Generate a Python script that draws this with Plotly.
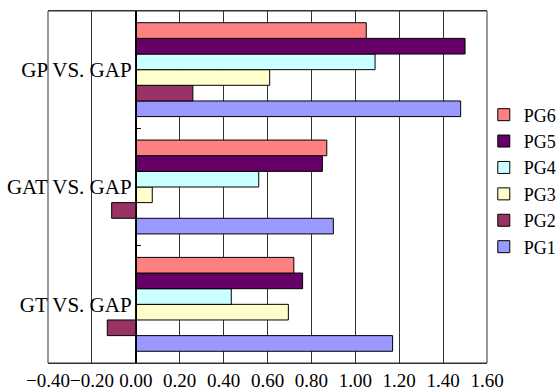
import plotly.graph_objects as go

categories = ["GT VS. GAP", "GAT VS. GAP", "GP VS. GAP"]
series_names = ["PG1", "PG2", "PG3", "PG4", "PG5", "PG6"]
pg1 = [1.17, 0.90, 1.48]
pg2 = [-0.13, -0.11, 0.26]
pg3 = [0.695, 0.075, 0.61]
pg4 = [0.435, 0.56, 1.09]
pg5 = [0.76, 0.85, 1.50]
pg6 = [0.72, 0.87, 1.05]
series_values = [pg1, pg2, pg3, pg4, pg5, pg6]
colors = ["#9999FF", "#993366", "#FFFFCC", "#CCFFFF", "#660066", "#FF8080"]
x_ticks = [-0.4, -0.2, 0.0, 0.2, 0.4, 0.6, 0.8, 1.0, 1.2, 1.4, 1.6]

FONT = "Liberation Serif, Times New Roman, serif"

fig = go.Figure()
for name, vals, col in zip(series_names, series_values, colors):
    fig.add_trace(go.Bar(
        name=name, y=categories, x=vals, orientation="h",
        marker=dict(color=col, line=dict(color="#000000", width=1)),
    ))

fig.update_layout(
    width=558, height=390,
    margin=dict(l=48, r=71, t=11, b=27, autoexpand=False),
    paper_bgcolor="white", plot_bgcolor="white",
    barmode="group", bargap=0.2, bargroupgap=0,
    hovermode=False,
    font=dict(family=FONT, color="#000000"),
    legend=dict(
        xref="container", yref="container",
        x=0.867, xanchor="left", y=0.536, yanchor="middle",
        traceorder="reversed", font=dict(size=18, family=FONT),
        tracegroupgap=0, bgcolor="rgba(0,0,0,0)",
    ),
    xaxis=dict(
        range=[-0.4, 1.6], tickvals=x_ticks, tickformat=".2f",
        tickangle=0, showgrid=True, gridcolor="#333333", gridwidth=1,
        zeroline=True, zerolinecolor="#000000", zerolinewidth=1,
        showline=True, linecolor="#333333", mirror=True,
        ticks="", tickfont=dict(size=19, family=FONT), automargin=False,
    ),
    yaxis=dict(
        anchor="free", position=0.2, automargin=False,
        showline=True, linecolor="#000000",
        ticks="inside", ticklen=4, tickcolor="#000000", tickson="boundaries",
        showgrid=False, tickfont=dict(size=21, family=FONT),
    ),
)

fig.add_shape(type="rect", xref="paper", yref="paper", x0=0, x1=1, y0=0, y1=1,
              line=dict(color="#333333", width=1), fillcolor="rgba(0,0,0,0)")

fig.write_html("out.html", config={"displayModeBar": False},
               post_script="document.body.style.margin='0';")
